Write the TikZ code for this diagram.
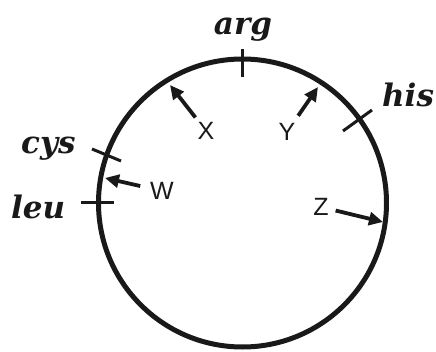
\documentclass[tikz,border=0pt]{standalone}
\usepackage{fontspec}
\setmainfont{Liberation Sans}
\newfontfamily\resfont{DejaVu Serif}
\usetikzlibrary{arrows.meta}
\begin{document}
\begin{tikzpicture}[x=1pt,y=-1pt,
  ring/.style={line width=5pt,draw=black!90},
  tick/.style={line width=3pt,draw=black!90},
  res/.style={inner sep=0pt,font=\resfont\bfseries\itshape\fontsize{31}{34}\selectfont,text=black!90},
  lab/.style={inner sep=0pt,font=\fontsize{25}{28}\selectfont,text=black!90},
  pointer/.style={line width=3.8pt,draw=black!90,-{Triangle[length=14pt,width=13pt]}}]
\useasboundingbox (0,0) rectangle (436,352);
\coordinate (c) at (242.5,203);
\draw[ring] (c) circle [radius=144pt];
% ticks
\coordinate (argA) at (242,49); \coordinate (argB) at (242,77);
\coordinate (hisA) at (343,131); \coordinate (hisB) at (372,110);
\coordinate (cysA) at (92,149); \coordinate (cysB) at (121,161);
\coordinate (leuA) at (81,203); \coordinate (leuB) at (114,203);
\draw[tick] (argA) -- (argB);
\draw[tick] (hisA) -- (hisB);
\draw[tick] (cysA) -- (cysB);
\draw[tick] (leuA) -- (leuB);
% residue labels
\node[res,anchor=base] (arg) at (243,35) {arg};
\node[res,anchor=base west] (his) at (382,107) {his};
\node[res,anchor=base west] (cys) at (21,154) {cys};
\node[res,anchor=base west] (leu) at (11,219) {leu};
% pointer labels
\node[lab] (X) at (206,131) {X};
\node[lab] (Y) at (287,132) {Y};
\node[lab] (W) at (162,191) {W};
\node[lab] (Z) at (321,207) {Z};
\coordinate (xt) at (170,85);
\coordinate (yt) at (318,87);
\coordinate (wt) at (105,178);
\coordinate (zt) at (383,222);
\draw[pointer,shorten <=6pt] (X) -- (xt);
\draw[pointer,shorten <=9pt] (Y) -- (yt);
\draw[pointer,shorten <=10pt] (W) -- (wt);
\draw[pointer,shorten <=7pt] (Z) -- (zt);
\end{tikzpicture}
\end{document}
